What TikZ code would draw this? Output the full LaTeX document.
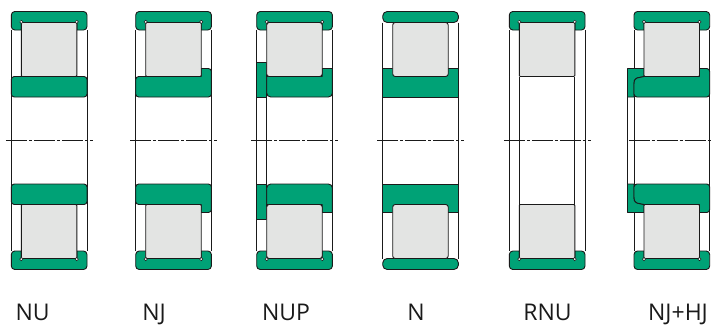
\documentclass[tikz,border=0pt]{standalone}
\usepackage{fontspec}
\setmainfont{Open Sans}
\definecolor{ringgreen}{HTML}{00A276}
\definecolor{rollergray}{HTML}{E3E4E3}
\definecolor{ink}{HTML}{1A1A1A}
\tikzset{
  ring/.style={draw=ink,fill=ringgreen,line width=0.9pt,line join=round},
  roller/.style={draw=ink,fill=rollergray,line width=0.9pt,rounded corners=1pt},
  softroller/.style={draw=ink,fill=rollergray,line width=0.9pt,rounded corners=2.5pt},
  wall/.style={draw=ink,line width=0.9pt},
  pin/.style={draw=ink,fill=white,line width=0.5pt},
  axisline/.style={draw=ink,line width=0.8pt,dash pattern=on 21pt off 2pt on 3pt off 2pt},
  caption/.style={font=\fontsize{23}{23}\selectfont,anchor=base,inner sep=0pt,text=ink}
}
\newcommand{\Walls}[2]{\foreach \wx/\wa in {#1} {\draw[wall] (\wx,\wa) -- (\wx,140.5);}}
\newcommand{\OuterRing}{%
  \draw[ring] (10,22.5) -- (10,30) {[rounded corners=3.5pt] -- (0,30) -- (0,11.5) -- (75.7,11.5) -- (75.7,30)} -- (65.5,30) -- (65.5,22.5) -- cycle;}
\newcommand{\Pins}{\draw[pin] (10,21.9) circle (1.6pt); \draw[pin] (65.5,21.9) circle (1.6pt);}
\newcommand{\Roller}{\draw[roller] (10,22.5) rectangle (65.5,76.5);}
\newcommand{\SoftRoller}{\draw[softroller] (10,22.5) rectangle (65.5,76.5);}
\newcommand{\RingNU}{\draw[ring,rounded corners=3pt] (0,76.5) rectangle (75.7,97);}
\newcommand{\RingNJ}{%
  \draw[ring] (65.5,76.5) -- (65.5,68.5) {[rounded corners=3pt] -- (75.7,68.5) -- (75.7,97) -- (0,97) -- (0,76.5)} -- cycle;}
\newcommand{\RingNUP}{%
  \draw[ring] (0,62) -- (10,62) -- (10,97) -- (0,97) -- cycle;
  \draw[ring] (10,76.5) -- (65.5,76.5) -- (65.5,68.5) -- (75.7,68.5) {[rounded corners=4pt] -- (75.7,97) -- (10,97)} -- cycle;}
\newcommand{\RingN}{%
  \draw[ring] (0,68.5) -- (75.7,68.5) -- (75.7,97) -- (0,97) -- cycle;}
\newcommand{\RingHJ}{%
  \draw[ring] (-6.5,68.5) -- (10,68.5) -- (10,76.5) .. controls (6,76.5) and (6,76.5) .. (3,78) .. controls (0,80) and (0,81) .. (0,84) -- (0,97) -- (-6.5,97) -- cycle;
  \draw[ring] (65.5,76.5) -- (65.5,68.5) {[rounded corners=3pt] -- (75.7,68.5) -- (75.7,97)-- (0,97)} -- (0,84) .. controls (0,81) and (0,80) .. (3,78) .. controls (6,76.5) and (6,76.5) .. (10,76.5) -- cycle;}
\newcommand{\HalfNU}{\Walls{0/30,75.7/30}{}\OuterRing\RingNU\Roller\Pins}
\newcommand{\HalfNJ}{\Walls{0/30,75.7/30}{}\OuterRing\RingNJ\Roller\Pins}
\newcommand{\HalfNUP}{\Walls{0/30,75.7/30}{}\OuterRing\RingNUP\draw[wall] (10,97) -- (10,140.5);\SoftRoller\Pins}
\newcommand{\HalfN}{\Walls{0/22.5,75.7/22.5}{}%
  \draw[ring,rounded corners=4.5pt] (0,11.5) rectangle (75.7,22.5);\RingN\SoftRoller}
\newcommand{\HalfRNU}{\Walls{0/30,75.7/30,10/76.5,65.5/76.5}{}\OuterRing\Roller\Pins}
\newcommand{\HalfHJ}{\Walls{0/30,75.7/30,-6.5/97}{}\OuterRing\RingHJ\Roller\Pins}
\newcommand{\Bearing}[3]{%
  \begin{scope}[shift={(#1,0)}]#2\end{scope}
  \begin{scope}[shift={(#1,281)},yscale=-1]#2\end{scope}
  \draw[axisline] (#1-5.5,140.5) -- (#1+#3,140.5);}
\begin{document}
\begin{tikzpicture}[x=1pt,y=-1pt]
\useasboundingbox (0,0) rectangle (712,325);
\Bearing{11.3}{\HalfNU}{81.5}
\Bearing{135.7}{\HalfNJ}{81.5}
\Bearing{256.7}{\HalfNUP}{81.5}
\Bearing{382.7}{\HalfN}{81.5}
\Bearing{509.3}{\HalfRNU}{81.5}
\Bearing{634}{\HalfHJ}{78}
\node[caption] (nu) at (32.7,320) {NU};
\node[caption] (nj) at (154,320) {NJ};
\node[caption] (nup) at (286,320) {NUP};
\node[caption] (n) at (416,320) {N};
\node[caption] (rnu) at (547.5,320) {RNU};
\node[caption] (njhj) at (678,320) {NJ+HJ};
\end{tikzpicture}
\end{document}
